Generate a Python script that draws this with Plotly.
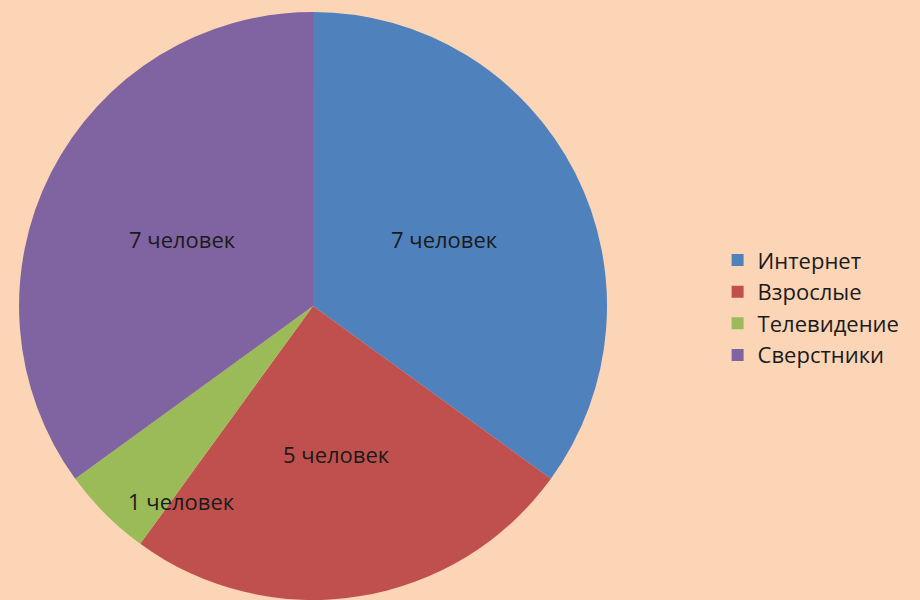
import math
import plotly.graph_objects as go

labels = ["Интернет", "Взрослые", "Телевидение", "Сверстники"]
values = [7, 5, 1, 7]
texts = ["7 человек", "5 человек", "1 человек", "7 человек"]
colors = ["#4F81BD", "#C0504D", "#9BBB59", "#8064A2"]

# label placement style (radial fraction, angle shift in degrees)
label_r = [0.5, 0.51, 0.8, 0.5]
label_dang = [0, 0, -11, 0]

W, H = 920, 600
dom_x = [0.0207, 0.6598]
dom_y = [0.0, 0.98]

fig = go.Figure(go.Pie(
    labels=labels, values=values,
    textinfo="none",
    sort=False, direction="clockwise", rotation=0,
    marker=dict(colors=colors, line=dict(width=0)),
    domain=dict(x=dom_x, y=dom_y),
    hoverinfo="label+value",
))

cx = (dom_x[0] + dom_x[1]) / 2 * W
cy = H - (dom_y[0] + dom_y[1]) / 2 * H
radius = min((dom_x[1] - dom_x[0]) * W, (dom_y[1] - dom_y[0]) * H) / 2
total = sum(values)
cum = 0
for v, t, rf, da in zip(values, texts, label_r, label_dang):
    mid = (cum + v / 2) / total * 360 + da
    cum += v
    a = math.radians(mid)
    px = cx + math.sin(a) * rf * radius
    py = cy - math.cos(a) * rf * radius
    fig.add_annotation(x=px / W, y=1 - py / H, xref="paper", yref="paper",
                       text=t, showarrow=False, xanchor="center", yanchor="middle",
                       font=dict(family="Open Sans", size=22, color="#1a1a1a"))

fig.update_layout(
    width=W, height=H,
    margin=dict(l=0, r=0, t=0, b=0),
    paper_bgcolor="#FBD5B5",
    plot_bgcolor="#FBD5B5",
    legend=dict(x=0.78, y=0.487, xanchor="left", yanchor="middle",
                font=dict(family="Open Sans", size=22, color="#1a1a1a"),
                itemsizing="constant", tracegroupgap=0),
)
fig.write_html("out.html", config={"displayModeBar": False},
               post_script="document.body.style.margin='0';document.body.style.background='#FBD5B5';")
